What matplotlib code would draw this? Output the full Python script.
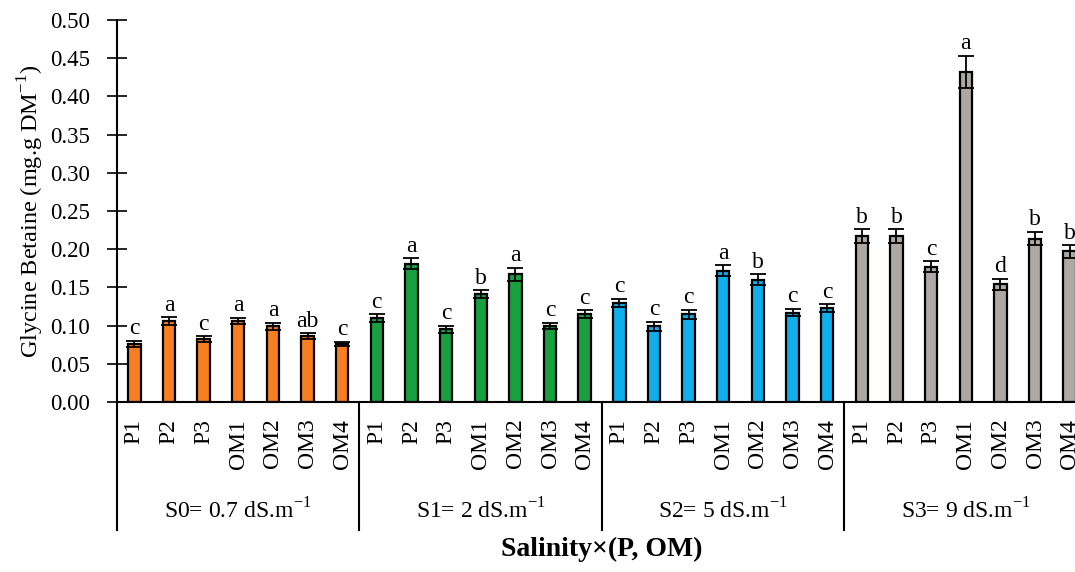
import matplotlib
matplotlib.use("Agg")
import matplotlib.pyplot as plt
import numpy as np

plt.rcParams["font.family"] = ["Liberation Serif", "DejaVu Serif"]
plt.rcParams["mathtext.fontset"] = "custom"
plt.rcParams["mathtext.rm"] = "Liberation Serif"

# treatments inside each salinity level
TREATMENTS = ["P1", "P2", "P3", "OM1", "OM2", "OM3", "OM4"]
GROUP_LABELS = [r"S0= 0.7 dS.m$^{-1}$", r"S1= 2 dS.m$^{-1}$",
                r"S2= 5 dS.m$^{-1}$", r"S3= 9 dS.m$^{-1}$"]
GROUP_COLORS = ["#F77F21", "#18A040", "#10AEEA", "#ABA8A6"]

# glycine betaine means and errors, one list per salinity level
S0_VALS = [0.076, 0.106, 0.082, 0.106, 0.099, 0.086, 0.076]
S1_VALS = [0.110, 0.181, 0.095, 0.141, 0.167, 0.100, 0.115]
S2_VALS = [0.130, 0.099, 0.115, 0.172, 0.160, 0.117, 0.123]
S3_VALS = [0.217, 0.217, 0.177, 0.432, 0.154, 0.214, 0.197]

S0_ERR = [0.004, 0.005, 0.004, 0.004, 0.005, 0.004, 0.003]
S1_ERR = [0.005, 0.007, 0.005, 0.005, 0.009, 0.004, 0.005]
S2_ERR = [0.005, 0.006, 0.006, 0.007, 0.007, 0.005, 0.005]
S3_ERR = [0.009, 0.009, 0.007, 0.021, 0.007, 0.009, 0.008]

S0_LET = ["c", "a", "c", "a", "a", "ab", "c"]
S1_LET = ["c", "a", "c", "b", "a", "c", "c"]
S2_LET = ["c", "c", "c", "a", "b", "c", "c"]
S3_LET = ["b", "b", "c", "a", "d", "b", "b"]

values = [S0_VALS, S1_VALS, S2_VALS, S3_VALS]
errors = [S0_ERR, S1_ERR, S2_ERR, S3_ERR]
letters = [S0_LET, S1_LET, S2_LET, S3_LET]

fig = plt.figure(figsize=(10.75, 5.72), dpi=100)
ax = fig.add_axes([117 / 1075, 170 / 572, 970 / 1075, 382 / 572])

n = len(TREATMENTS)
for g in range(4):
    x = np.arange(n) + g * n
    ax.bar(x, values[g], width=0.36, color=GROUP_COLORS[g],
           edgecolor="black", linewidth=1.6, zorder=2)
    ax.errorbar(x, values[g], yerr=errors[g], fmt="none", ecolor="black",
                elinewidth=1.3, capsize=6, capthick=1.3, zorder=3)
    for xi, v, e, t in zip(x, values[g], errors[g], letters[g]):
        ax.text(xi, v + e + 0.002, t, ha="center", va="bottom", fontsize=17)

ax.set_xlim(-0.5, 4 * n - 0.5)
ax.set_ylim(0, 0.5)
ax.set_yticks(np.arange(0, 0.51, 0.05))
ax.set_yticklabels([f"{t:.2f}" for t in np.arange(0, 0.51, 0.05)], fontsize=16.5)
ax.tick_params(axis="y", direction="inout", length=15, width=1.2, pad=12)

ax.set_xticks(np.arange(4 * n))
ax.set_xticklabels(TREATMENTS * 4, rotation=90, fontsize=17, va="top")
ax.tick_params(axis="x", length=0, pad=12)

ax.spines["top"].set_visible(False)
ax.spines["right"].set_visible(False)
ax.spines["left"].set_linewidth(1.5)
ax.spines["bottom"].set_linewidth(1.5)

# group separators and salinity labels under the axis
trans = ax.get_xaxis_transform()
for g in range(5):
    ax.plot([g * n - 0.5, g * n - 0.5], [0, -0.335], color="black",
            linewidth=1.5, transform=trans, clip_on=False)
for g in range(4):
    ax.text(g * n + (n - 1) / 2, -0.285, GROUP_LABELS[g], transform=trans,
            ha="center", va="center", fontsize=17)

ax.set_ylabel(r"Glycine Betaine (mg.g DM$^{-1}$)", fontsize=17.5, labelpad=3)
ax.text(0.5, -0.385, "Salinity×(P, OM)", transform=ax.transAxes, ha="center",
        va="center", fontsize=20, fontweight="bold")

fig.savefig("out.png", dpi=100)
